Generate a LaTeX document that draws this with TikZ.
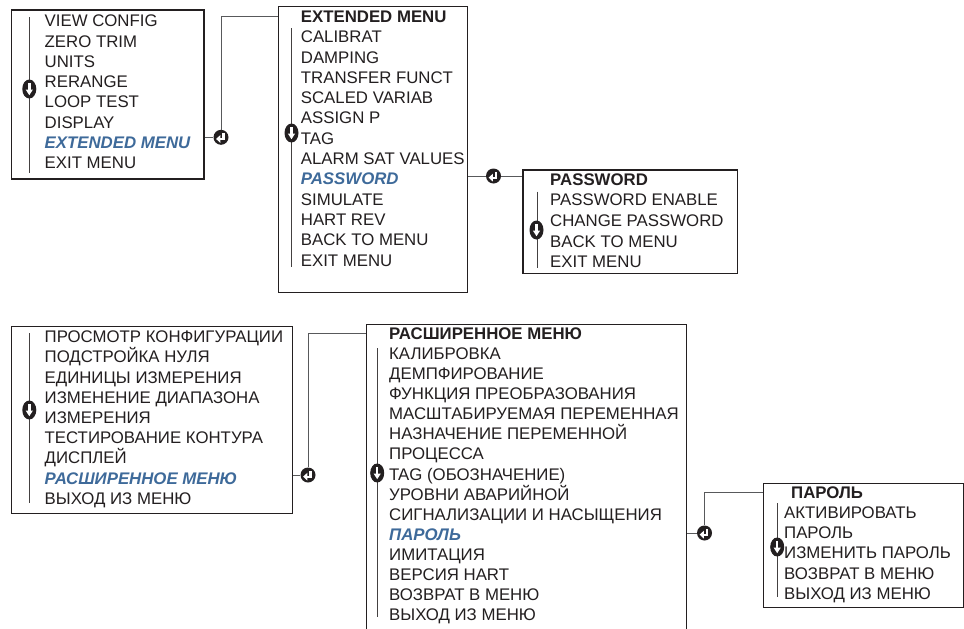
\documentclass[tikz,border=0pt]{standalone}
\usepackage{fontspec}
\setmainfont{Liberation Sans}
\usetikzlibrary{shapes.geometric,calc}
\definecolor{ink}{HTML}{231F20}
\definecolor{hlblue}{HTML}{3E6A9A}
\definecolor{wire}{HTML}{58595B}
\begin{document}
\begin{tikzpicture}[x=1pt,y=-1pt,
  menubox/.style={draw=ink,line width=1.3pt,inner sep=0pt,anchor=north west},
  wireline/.style={draw=wire,line width=0.9pt},
  scrollline/.style={draw=ink!85,line width=0.9pt},
  item/.style={anchor=west,inner sep=0pt,text height=12pt,text depth=0pt,
    font=\fontsize{16.8}{20}\selectfont,text=ink},
  head/.style={item,font=\fontsize{16.8}{20}\selectfont\bfseries},
  hl/.style={item,font=\fontsize{16.8}{20}\selectfont\bfseries\itshape,text=hlblue},
  scrollicon/.style={ellipse,fill=ink,minimum width=14pt,minimum height=19pt,inner sep=0pt,
    path picture={
      \begin{scope}[shift={(path picture bounding box.center)}]
        \fill[white] (-1.2pt,6pt) rectangle (1.2pt,-1pt);
        \fill[white] (-3.6pt,-0.6pt) -- (3.6pt,-0.6pt) -- (0pt,-6.2pt) -- cycle;
      \end{scope}}},
  entericon/.style={circle,fill=ink,minimum size=15pt,inner sep=0pt,
    path picture={
      \begin{scope}[shift={(path picture bounding box.center)}]
        \fill[white] (1.2pt,4.5pt) rectangle (3.5pt,-2.8pt);
        \fill[white] (-1pt,-0.5pt) rectangle (3.5pt,-2.8pt);
        \fill[white] (-4.9pt,-1.65pt) -- (-0.6pt,2.3pt) -- (-0.6pt,-5.6pt) -- cycle;
      \end{scope}}},
]
\clip (0,0) rectangle (964,629);
\fill[white] (0,0) rectangle (964,629);

% ---------- boxes ----------
\node[menubox,minimum width=192.6pt,minimum height=169pt] (box1) at (10.7,9.3) {};
\node[menubox,minimum width=189pt,minimum height=285.7pt] (box2) at (277.7,6) {};
\node[menubox,minimum width=214.4pt,minimum height=103.4pt] (box3) at (522.3,169.3) {};
\node[menubox,minimum width=281pt,minimum height=186.7pt] (box4) at (10.7,326) {};
\node[menubox,minimum width=320pt,minimum height=330pt] (box5) at (366,324) {};
\node[menubox,minimum width=200pt,minimum height=124pt] (box6) at (762.7,482.7) {};

% ---------- texts ----------
\foreach \s/\t [count=\i] in {item/VIEW CONFIG,item/ZERO TRIM,item/UNITS,item/RERANGE,
  item/LOOP TEST,item/DISPLAY,hl/EXTENDED MENU,item/EXIT MENU}
  \node[\s] (a\i) at (44.5,{20.7+(\i-1)*20.3}) {\t};

\foreach \s/\t [count=\i] in {head/EXTENDED MENU,item/CALIBRAT,item/DAMPING,item/TRANSFER FUNCT,
  item/SCALED VARIAB,item/ASSIGN P,item/TAG,item/ALARM SAT VALUES,hl/PASSWORD,item/SIMULATE,
  item/HART REV,item/BACK TO MENU,item/EXIT MENU}
  \node[\s] (b\i) at (300.7,{16.4+(\i-1)*20.3}) {\t};

\foreach \s/\t [count=\i] in {head/PASSWORD,item/PASSWORD ENABLE,item/CHANGE PASSWORD,
  item/BACK TO MENU,item/EXIT MENU}
  \node[\s] (c\i) at (550,{179.3+(\i-1)*20.6}) {\t};

\foreach \s/\t [count=\i] in {item/ПРОСМОТР КОНФИГУРАЦИИ,item/ПОДСТРОЙКА НУЛЯ,item/ЕДИНИЦЫ ИЗМЕРЕНИЯ,
  item/ИЗМЕНЕНИЕ ДИАПАЗОНА,item/ИЗМЕРЕНИЯ,item/ТЕСТИРОВАНИЕ КОНТУРА,item/ДИСПЛЕЙ,
  hl/РАСШИРЕННОЕ МЕНЮ,item/ВЫХОД ИЗ МЕНЮ}
  \node[\s] (d\i) at (44.5,{336.7+(\i-1)*20.2}) {\t};

\foreach \s/\t [count=\i] in {head/РАСШИРЕННОЕ МЕНЮ,item/КАЛИБРОВКА,item/ДЕМПФИРОВАНИЕ,
  item/ФУНКЦИЯ ПРЕОБРАЗОВАНИЯ,item/МАСШТАБИРУЕМАЯ ПЕРЕМЕННАЯ,item/НАЗНАЧЕНИЕ ПЕРЕМЕННОЙ,
  item/ПРОЦЕССА,item/TAG (ОБОЗНАЧЕНИЕ),item/УРОВНИ АВАРИЙНОЙ,item/СИГНАЛИЗАЦИИ И НАСЫЩЕНИЯ,
  hl/ПАРОЛЬ,item/ИМИТАЦИЯ,item/ВЕРСИЯ HART,item/ВОЗВРАТ В МЕНЮ,item/ВЫХОД ИЗ МЕНЮ}
  \node[\s] (f\i) at (389,{333.3+(\i-1)*20.1}) {\t};

\node[head] (g1) at (791,492.3) {ПАРОЛЬ};
\foreach \t [count=\i from 2] in {АКТИВИРОВАТЬ,ПАРОЛЬ,ИЗМЕНИТЬ ПАРОЛЬ,ВОЗВРАТ В МЕНЮ,ВЫХОД ИЗ МЕНЮ}
  \node[item] (g\i) at (784,{492.3+(\i-1)*20.2}) {\t};

% ---------- scroll bars ----------
\draw[scrollline] (29.3,17) -- (29.3,173);
\node[scrollicon] (s1) at (29.3,89) {};
\draw[scrollline] (291,28) -- (291,267);
\node[scrollicon] (s2) at (291.5,133) {};
\draw[scrollline] (537.3,191.5) -- (537.3,268.3);
\node[scrollicon] (s3) at (536.5,230) {};
\draw[scrollline] (29.3,333) -- (29.3,503);
\node[scrollicon] (s4) at (29.3,410) {};
\draw[scrollline] (377.7,348) -- (377.7,617);
\node[scrollicon] (s5) at (377.2,473) {};
\draw[scrollline] (777.7,503) -- (777.7,596.7);
\node[scrollicon] (s6) at (777.2,547) {};

% ---------- enter icons and connectors ----------
\node[entericon] (e1) at (221,137.3) {};
\node[entericon] (e2) at (493.5,176) {};
\node[entericon] (e3) at (308,475) {};
\node[entericon] (e4) at (704.5,533) {};

\draw[wireline] (box1.east |- e1) -- (e1.west);
\draw[wireline] (e1.north) |- (box2.west |- b1);
\draw[wireline] (box2.east |- e2) -- (e2.west);
\draw[wireline] (e2.east) -- (box3.west |- e2);
\draw[wireline] (box4.east |- e3) -- (e3.west);
\draw[wireline] (e3.north) |- (box5.west |- f1);
\draw[wireline] (box5.east |- e4) -- (e4.west);
\draw[wireline] (e4.north) |- (box6.west |- g1);
\end{tikzpicture}
\end{document}
